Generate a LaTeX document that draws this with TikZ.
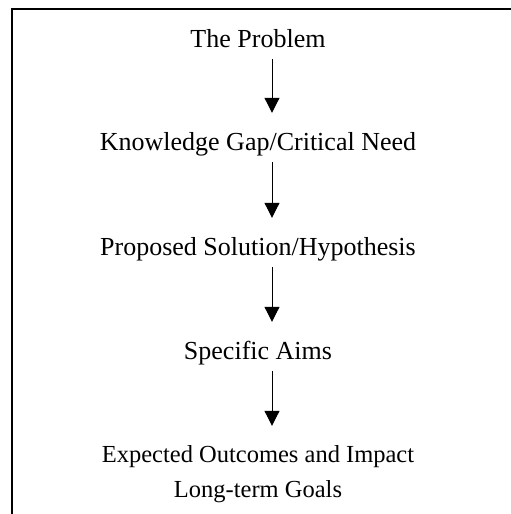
\documentclass[tikz,border=0pt]{standalone}
\usepackage{fontspec}
\setmainfont{Liberation Serif}
\usetikzlibrary{arrows.meta}
\begin{document}
\begin{tikzpicture}[x=1pt,y=1pt,
  txt/.style={anchor=base,inner sep=0pt,text height=18pt,text depth=6pt,font=\fontsize{26}{32}\selectfont},
  txtb/.style={txt,text height=17pt,font=\fontsize{24.5}{30}\selectfont},
  arr/.style={line width=1pt,-{Triangle[width=15pt,length=15pt]},shorten <=6pt,shorten >=19pt},
  frame/.style={line width=1.5pt}]
\useasboundingbox (0,0) rectangle (511,-514);
\draw[frame] (511,-9) -- (12,-9) -- (12,-514);
\coordinate (ax) at (272,0);
\node[txt] (t1) at (258,-47) {The Problem};
\node[txt] (t2) at (258,-150) {Knowledge Gap/Critical Need};
\node[txt] (t3) at (258,-255) {Proposed Solution/Hypothesis};
\node[txt] (t4) at (258,-359) {Specific Aims};
\node[txtb] (t5) at (258,-462) {Expected Outcomes and Impact};
\node[txtb] (t6) at (258,-497) {Long-term Goals};
\draw[arr] (t1.south -| ax) -- (t2.north -| ax);
\draw[arr] (t2.south -| ax) -- (t3.north -| ax);
\draw[arr] (t3.south -| ax) -- (t4.north -| ax);
\draw[arr] (t4.south -| ax) -- (t5.north -| ax);
\end{tikzpicture}
\end{document}
